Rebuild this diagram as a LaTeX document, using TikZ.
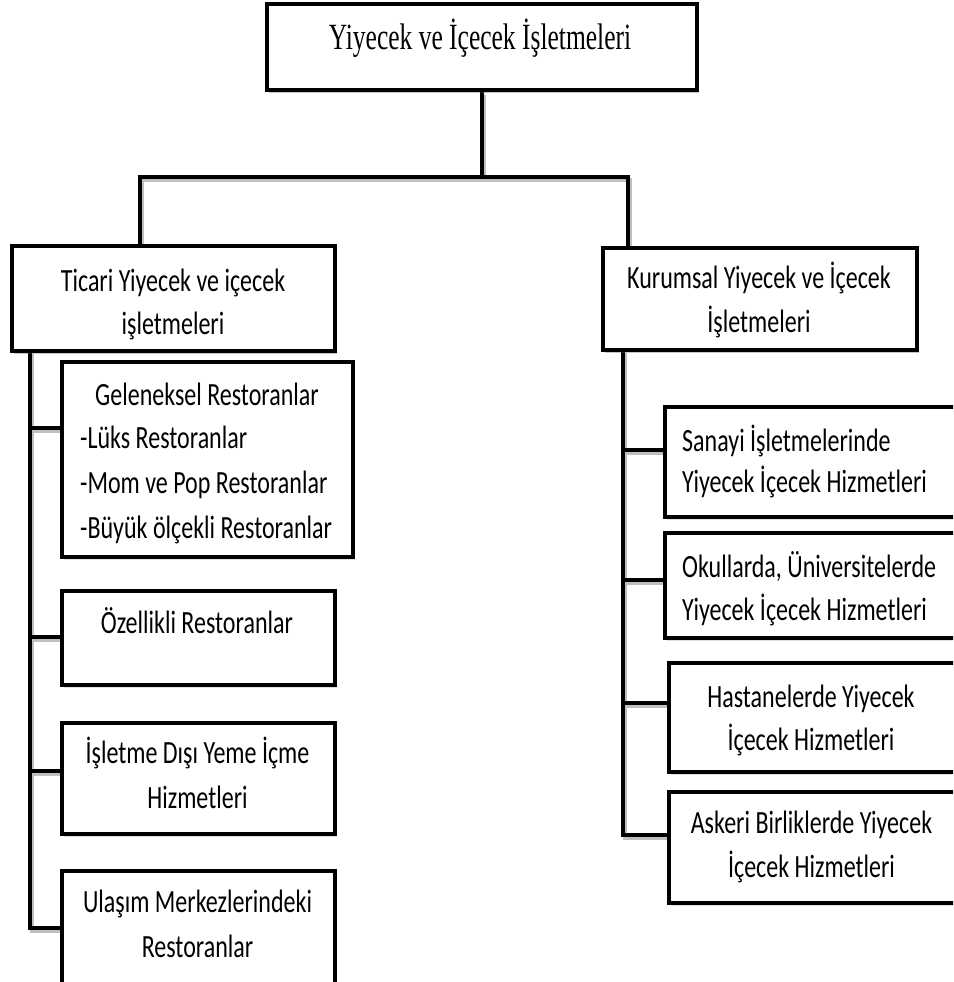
\documentclass[tikz,border=0pt]{standalone}
\usepackage{fontspec}
\usepackage{graphicx}
\setmainfont{Carlito}
\newfontfamily\timesfont{Liberation Serif}
\usetikzlibrary{shadows}
\newcommand\vstr[1]{\scalebox{1}[1.35]{#1}}
\newcommand\vstrT[1]{\scalebox{1}[1.45]{#1}}
\tikzset{
  box/.style={draw=black, line width=4.5pt, fill=white, inner sep=0pt, rectangle,
    drop shadow={shadow xshift=2pt, shadow yshift=-3pt, opacity=0.25}},
  conn/.style={draw=black, line width=4.5pt,
    preaction={draw=black!25, line width=4.5pt, transform canvas={shift={(2pt,-3pt)}}}},
  lbl/.style={font=\fontsize{24}{30}\selectfont, inner sep=0pt, text=black, anchor=base},
  lblw/.style={lbl, anchor=base west},
}
\begin{document}
\begin{tikzpicture}[x=1pt,y=-1pt]
\useasboundingbox (0,0) rectangle (953,982);
\clip (0,0) rectangle (953,982);

% connector points
\coordinate (hl) at (140,177);
\coordinate (hr) at (628,177);
\coordinate (lsT) at (30,351);
\coordinate (lsB) at (30,928);
\coordinate (rsT) at (623,350);
\coordinate (rsB) at (623,835);
\coordinate (bGel) at (62,428);
\coordinate (bOze) at (62,637);
\coordinate (bIsl) at (62,771);
\coordinate (bUla) at (62,928);
\coordinate (bSan) at (665,450);
\coordinate (bOku) at (665,580);
\coordinate (bHas) at (669,703);
\coordinate (bAsk) at (669,835);

% boxes used as connector ends
\node[box, minimum width=430, minimum height=86] (top) at (482,47) {};
\node[box, minimum width=323, minimum height=105] (tic) at (173.5,298.5) {};
\node[box, minimum width=314, minimum height=102] (kur) at (760,299) {};

% connectors
\draw[conn] (top.south) -- (top.south |- hl);
\draw[conn] (hl |- tic.north) -- (hl) -- (hr) -- (hr |- kur.north);
\draw[conn] (lsT) -- (lsB) -- (bUla);
\draw[conn] (lsT |- bGel) -- (bGel);
\draw[conn] (lsT |- bOze) -- (bOze);
\draw[conn] (lsT |- bIsl) -- (bIsl);
\draw[conn] (rsT) -- (rsB) -- (bAsk);
\draw[conn] (rsT |- bSan) -- (bSan);
\draw[conn] (rsT |- bOku) -- (bOku);
\draw[conn] (rsT |- bHas) -- (bHas);

% boxes
\node[box, minimum width=430, minimum height=86] (top) at (482,47) {};
\node[box, minimum width=323, minimum height=105] (tic) at (173.5,298.5) {};
\node[box, minimum width=314, minimum height=102] (kur) at (760,299) {};
\node[box, minimum width=291, minimum height=195] (gel) at (207.5,459.5) {};
\node[box, minimum width=273, minimum height=94] (oze) at (198.5,638) {};
\node[box, minimum width=273, minimum height=111] (isl) at (198.5,778.5) {};
\node[box, minimum width=273, minimum height=120] (ula) at (198.5,931) {};
\node[box, minimum width=400, minimum height=110] (san) at (865,462) {};
\node[box, minimum width=400, minimum height=105] (oku) at (865,585.5) {};
\node[box, minimum width=396, minimum height=109] (has) at (867,717.5) {};
\node[box, minimum width=396, minimum height=111] (ask) at (867,847.5) {};

% texts
\node[inner sep=0pt, font=\timesfont\fontsize{25.5}{30}\selectfont, anchor=base] (tTop) at (480,50) {\vstrT{Yiyecek ve İçecek İşletmeleri}};
\node[lbl] (tTic1) at (173,291) {\vstr{Ticari Yiyecek ve içecek}};
\node[lbl] (tTic2) at (173,334) {\vstr{işletmeleri}};
\node[lbl] (tKur1) at (759,288) {\vstr{Kurumsal Yiyecek ve İçecek}};
\node[lbl] (tKur2) at (759,332) {\vstr{İşletmeleri}};
\node[lbl] (tGel) at (207,405) {\vstr{Geleneksel Restoranlar}};
\node[lblw] (tGel1) at (80,448) {\vstr{-Lüks Restoranlar}};
\node[lblw] (tGel2) at (80,493) {\vstr{-Mom ve Pop Restoranlar}};
\node[lblw] (tGel3) at (80,538) {\vstr{-Büyük ölçekli Restoranlar}};
\node[lbl] (tOze) at (197,633) {\vstr{Özellikli Restoranlar}};
\node[lbl] (tIsl1) at (197.5,763) {\vstr{İşletme Dışı Yeme İçme}};
\node[lbl] (tIsl2) at (197.5,808) {\vstr{Hizmetleri}};
\node[lbl] (tUla1) at (197.5,912) {\vstr{Ulaşım Merkezlerindeki}};
\node[lbl] (tUla2) at (197.5,957) {\vstr{Restoranlar}};
\node[lblw] (tSan1) at (682,451) {\vstr{Sanayi İşletmelerinde}};
\node[lblw] (tSan2) at (682,492) {\vstr{Yiyecek İçecek Hizmetleri}};
\node[lblw] (tOku1) at (682,577) {\vstr{Okullarda, Üniversitelerde}};
\node[lblw] (tOku2) at (682,620) {\vstr{Yiyecek İçecek Hizmetleri}};
\node[lbl] (tHas1) at (811,707) {\vstr{Hastanelerde Yiyecek}};
\node[lbl] (tHas2) at (811,750) {\vstr{İçecek Hizmetleri}};
\node[lbl] (tAsk1) at (811.5,833) {\vstr{Askeri Birliklerde Yiyecek}};
\node[lbl] (tAsk2) at (811.5,877) {\vstr{İçecek Hizmetleri}};
\end{tikzpicture}
\end{document}
